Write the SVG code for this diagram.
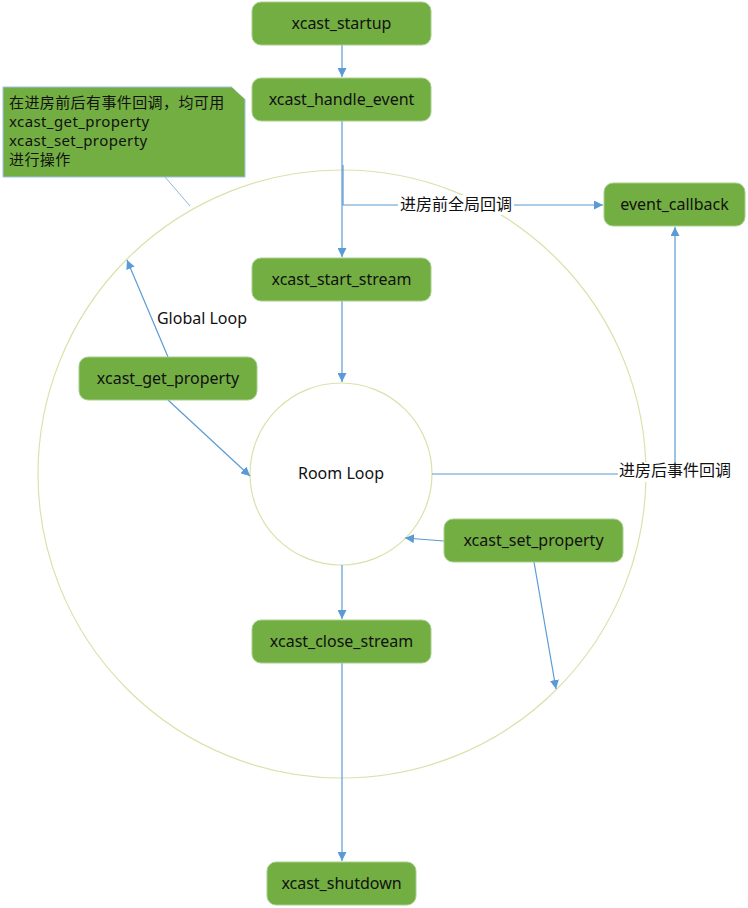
<svg xmlns="http://www.w3.org/2000/svg" width="748" height="908" viewBox="0 0 748 908">
<style>
.node rect{fill:#73ae42;stroke:#a9cf8c;stroke-width:1}
.t{font-family:"Noto Sans","Open Sans","Liberation Sans","Noto Sans CJK SC",sans-serif;font-size:16px;fill:#111}
.ct{font-family:"Noto Sans","Open Sans","Liberation Sans","Noto Sans CJK SC",sans-serif;font-size:15px;fill:#111;letter-spacing:0.4px}
.c{stroke:#5b9bd5;stroke-width:1.2;fill:none}
.ring{fill:none;stroke:#d9e2aa;stroke-width:1.2}
.lbl{font-family:"Noto Sans","Open Sans","Liberation Sans","Noto Sans CJK SC",sans-serif;font-size:16px;fill:#111}
</style>
<defs>
<marker id="ah" viewBox="0 0 10 10" refX="10" refY="5" markerWidth="9" markerHeight="9" markerUnits="userSpaceOnUse" orient="auto">
<path d="M0,0 L10,5 L0,10 z" fill="#5b9bd5"/>
</marker>
</defs>
<rect width="748" height="908" fill="#fff"/>
<circle class="ring" cx="342" cy="474" r="304"/>
<g id="room_loop">
<circle class="ring" cx="341" cy="474" r="91" fill="#fff"/>
<text class="t" x="341" y="479" text-anchor="middle">Room Loop</text>
</g>
<g id="connectors">
<line class="c" x1="342" y1="45" x2="342" y2="77" marker-end="url(#ah)"/>
<line class="c" x1="342" y1="121" x2="342" y2="257" marker-end="url(#ah)"/>
<polyline class="c" points="343,165 343,205 603,205" marker-end="url(#ah)"/>
<line class="c" x1="342" y1="301" x2="342" y2="382" marker-end="url(#ah)"/>
<polyline class="c" points="432,474 675,474 675,227" marker-end="url(#ah)"/>
<line class="c" x1="168" y1="357" x2="127" y2="260" marker-end="url(#ah)"/>
<line class="c" x1="168" y1="400" x2="250" y2="476" marker-end="url(#ah)"/>
<line class="c" x1="444" y1="541" x2="405" y2="538" marker-end="url(#ah)"/>
<line class="c" x1="534" y1="562" x2="556" y2="689" marker-end="url(#ah)"/>
<line class="c" x1="342" y1="565" x2="342" y2="619" marker-end="url(#ah)"/>
<line class="c" x1="342" y1="663" x2="342" y2="861" marker-end="url(#ah)"/>
<line x1="165" y1="177" x2="190" y2="206" stroke="#8fb8e0" stroke-width="1"/>
<rect x="398" y="195" width="116" height="20" fill="#fff"/>
<text class="lbl" x="456" y="210" text-anchor="middle">进房前全局回调</text>
<rect x="618" y="462" width="114" height="20" fill="#fff"/>
<text class="lbl" x="675" y="476" text-anchor="middle">进房后事件回调</text>
<text class="lbl" x="202" y="324" text-anchor="middle">Global Loop</text>
</g>
<g id="callout">
<path d="M3,87 L232,87 L245,99 L245,177 L3,177 z" fill="#73ae42" stroke="#9dc3e6" stroke-width="1"/>
<path d="M232,87 L245,87 L245,99 z" fill="#fff"/>
<text class="ct" x="9" y="108">在进房前后有事件回调，均可用</text>
<text class="ct" x="9" y="127">xcast_get_property</text>
<text class="ct" x="9" y="146">xcast_set_property</text>
<text class="ct" x="9" y="165">进行操作</text>
</g>
<g id="xcast_startup" class="node">
<rect x="252" y="2" width="179" height="43" rx="9"/>
<text class="t" x="341.5" y="29" text-anchor="middle">xcast_startup</text>
</g>
<g id="xcast_handle_event" class="node">
<rect x="252" y="78" width="179" height="43" rx="9"/>
<text class="t" x="341.5" y="105" text-anchor="middle">xcast_handle_event</text>
</g>
<g id="xcast_start_stream" class="node">
<rect x="252" y="258" width="179" height="43" rx="9"/>
<text class="t" x="341.5" y="285" text-anchor="middle">xcast_start_stream</text>
</g>
<g id="event_callback" class="node">
<rect x="604" y="183" width="141" height="43" rx="9"/>
<text class="t" x="674.5" y="210" text-anchor="middle">event_callback</text>
</g>
<g id="xcast_get_property" class="node">
<rect x="79" y="357" width="178" height="43" rx="9"/>
<text class="t" x="168" y="384" text-anchor="middle">xcast_get_property</text>
</g>
<g id="xcast_set_property" class="node">
<rect x="444" y="519" width="179" height="43" rx="9"/>
<text class="t" x="533.5" y="546" text-anchor="middle">xcast_set_property</text>
</g>
<g id="xcast_close_stream" class="node">
<rect x="252" y="620" width="179" height="43" rx="9"/>
<text class="t" x="341.5" y="647" text-anchor="middle">xcast_close_stream</text>
</g>
<g id="xcast_shutdown" class="node">
<rect x="267" y="862" width="149" height="43" rx="9"/>
<text class="t" x="341.5" y="889" text-anchor="middle">xcast_shutdown</text>
</g>
</svg>
